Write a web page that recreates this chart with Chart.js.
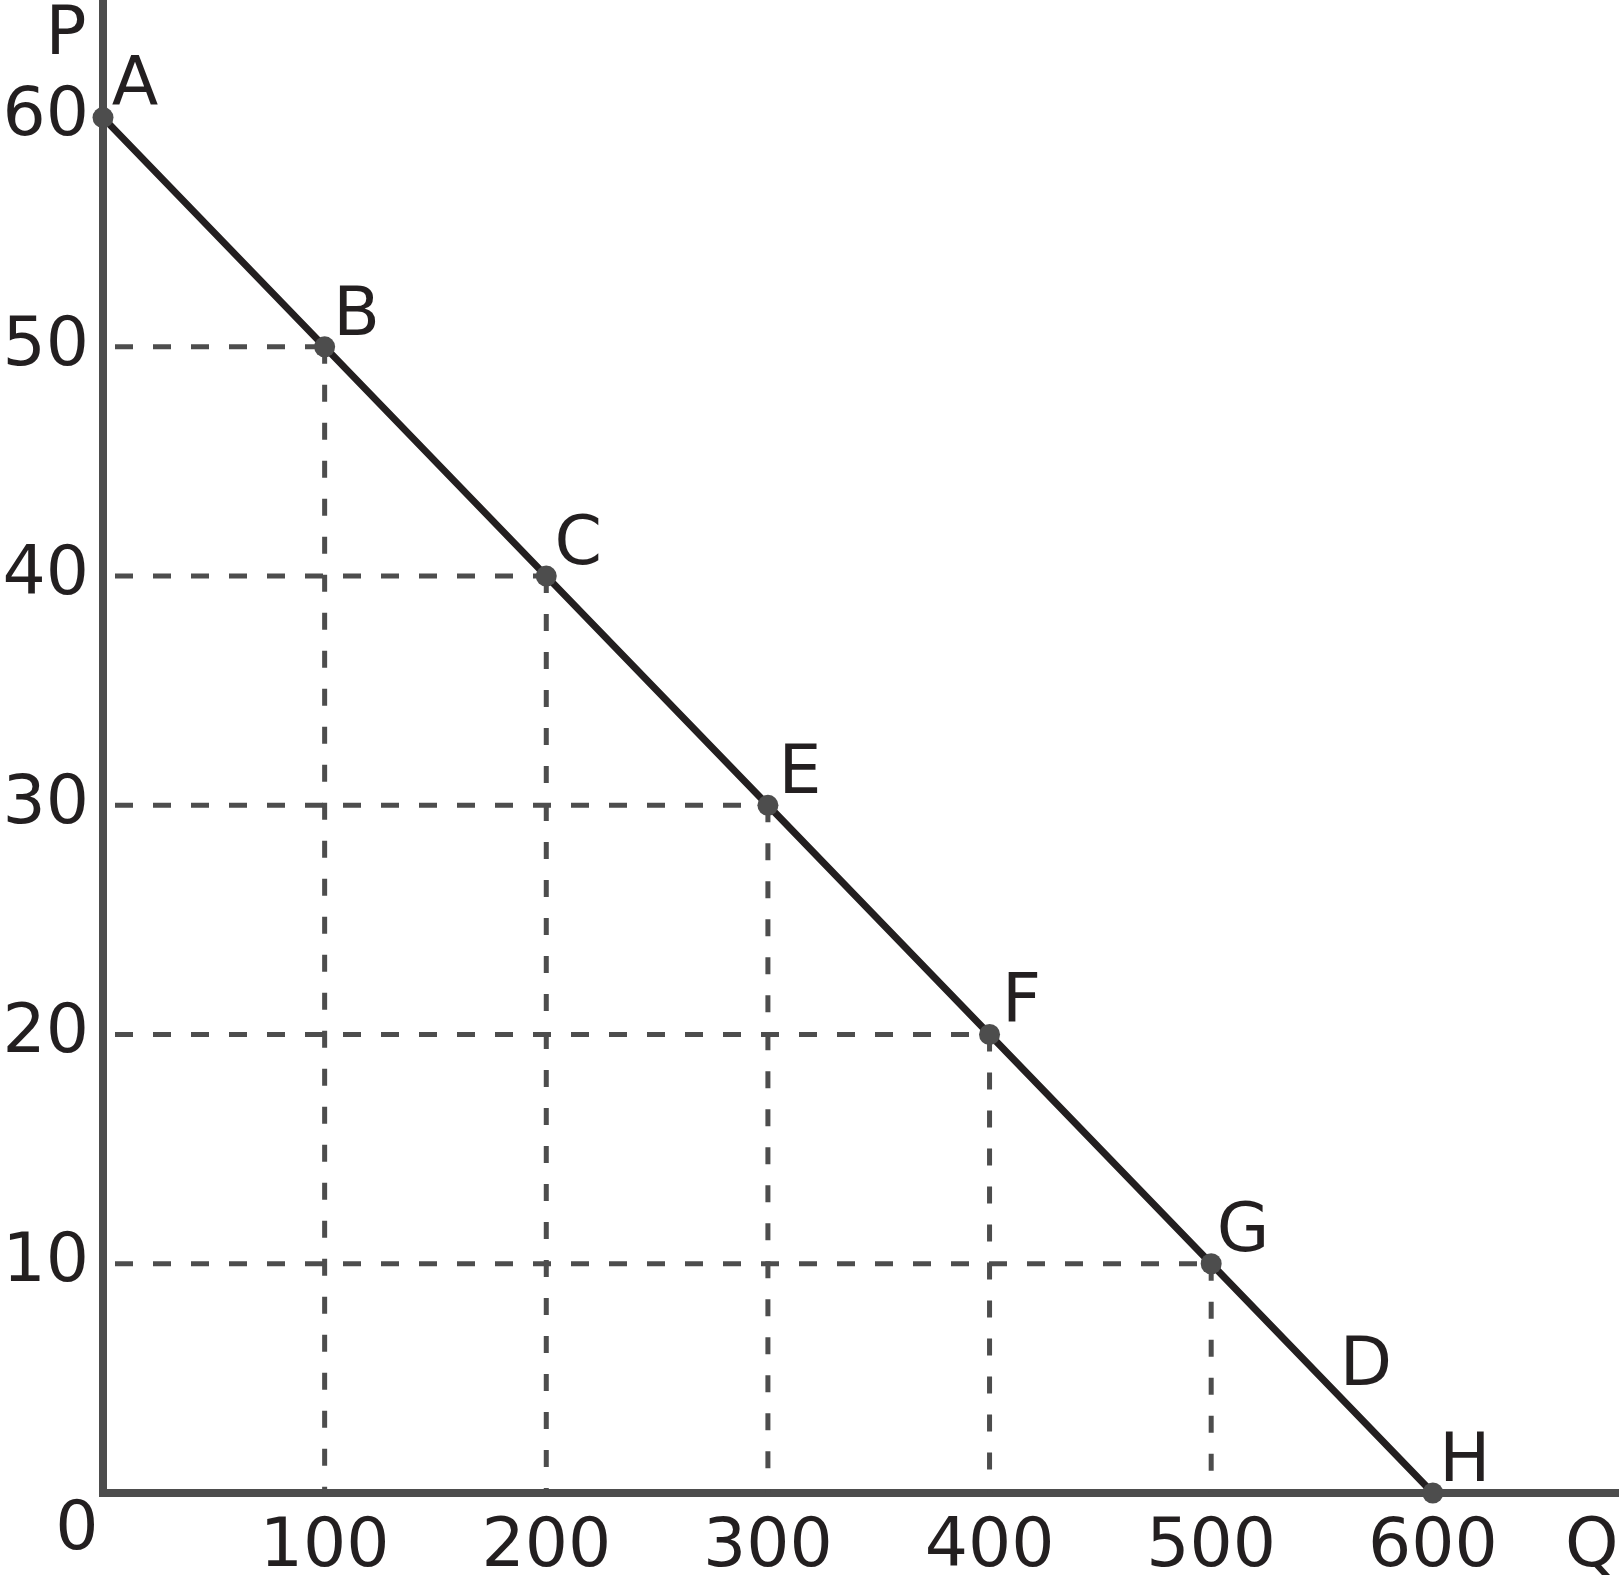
<html>
<head>
	<title>Demand curve</title>
	<script src="https://cdn.jsdelivr.net/npm/chart.js@4.4.0/dist/chart.umd.min.js"></script>
	<style>
		body { margin: 0; background: #fff; }
		#wrap { position: relative; width: 1619px; height: 1585px; }
	</style>
	<script>
		// points on the demand curve D
		var pointNames = ['A', 'B', 'C', 'E', 'F', 'G', 'H'];
		var quantity = [0, 100, 200, 300, 400, 500, 600];
		var price = [60, 50, 40, 30, 20, 10, 0];
		var xTicks = [100, 200, 300, 400, 500, 600];
		var yTicks = [10, 20, 30, 40, 50, 60];

		var ink = '#231f20';
		var grey = '#4d4d4d';
		var font = 'DejaVu Sans';

		function start() {
			var curve = quantity.map(function(q, i) { return {x: q, y: price[i]}; });

			var datasets = [{
				data: curve,
				showLine: true,
				borderColor: ink,
				borderWidth: 7,
				pointRadius: 10.5,
				pointBackgroundColor: grey,
				pointBorderWidth: 0,
				clip: false,
				order: 0
			}];

			// dashed guides for the inner points
			for (var i = 1; i < quantity.length - 1; i++) {
				datasets.push({
					data: [{x: 0, y: price[i]}, {x: quantity[i], y: price[i]}],
					showLine: true, borderColor: grey, borderWidth: 5,
					borderDash: [18, 20], borderDashOffset: 26,
					pointRadius: 0, order: 1
				});
				datasets.push({
					data: [{x: quantity[i], y: price[i]}, {x: quantity[i], y: 0}],
					showLine: true, borderColor: grey, borderWidth: 5,
					borderDash: [17, 21],
					pointRadius: 0, order: 1
				});
			}

			var labelsPlugin = {
				id: 'labels',
				afterDatasetsDraw: function(chart) {
					var ctx = chart.ctx;
					var xs = chart.scales.x, ys = chart.scales.y;
					var area = chart.chartArea;
					ctx.save();
					ctx.fillStyle = ink;
					ctx.font = '68px "' + font + '"';
					ctx.textAlign = 'center';
					ctx.textBaseline = 'middle';
					pointNames.forEach(function(name, i) {
						ctx.fillText(name, xs.getPixelForValue(quantity[i]) + 32, ys.getPixelForValue(price[i]) - 30);
					});
					// curve name between G and H
					var n = quantity.length;
					var mx = (xs.getPixelForValue(quantity[n - 2]) + xs.getPixelForValue(quantity[n - 1])) / 2;
					var my = (ys.getPixelForValue(price[n - 2]) + ys.getPixelForValue(price[n - 1])) / 2;
					ctx.fillText('D', mx + 44, my - 11);
					// origin and axis names
					ctx.fillText('0', xs.getPixelForValue(0) - 26, ys.getPixelForValue(0) + 38);
					ctx.fillText('P', area.left - 37, 36);
					ctx.textAlign = 'left';
					ctx.fillText('Q', area.right - 54, ys.getPixelForValue(0) + 55);
					ctx.restore();
				}
			};

			new Chart(document.getElementById('chart'), {
				type: 'scatter',
				data: {datasets: datasets},
				options: {
					responsive: true,
					maintainAspectRatio: false,
					animation: false,
					layout: {autoPadding: false, padding: {top: 3, right: 0, bottom: 0, left: 0}},
					plugins: {legend: {display: false}, tooltip: {enabled: false}},
					scales: {
						x: {
							type: 'linear', min: 0, max: 684,
							grid: {display: false, drawTicks: false},
							border: {display: true, color: grey, width: 8},
							ticks: {color: ink, padding: 15, font: {family: font, size: 68, lineHeight: 1.2}},
							afterBuildTicks: function(s) { s.ticks = xTicks.map(function(v) { return {value: v}; }); },
							afterFit: function(s) { s.height = 92; s.paddingLeft = 0; s.paddingRight = 0; }
						},
						y: {
							type: 'linear', min: 0, max: 65,
							grid: {display: false, drawTicks: false},
							border: {display: true, color: grey, width: 8},
							ticks: {color: ink, padding: 14, font: {family: font, size: 68}},
							afterBuildTicks: function(s) { s.ticks = yTicks.map(function(v) { return {value: v}; }); },
							afterFit: function(s) { s.width = 103; s.paddingTop = 0; s.paddingBottom = 0; }
						}
					}
				},
				plugins: [labelsPlugin]
			});
		}
	</script>
</head>
<body onload="start()">
	<div id="wrap"><canvas id="chart"></canvas></div>
</body>
</html>
